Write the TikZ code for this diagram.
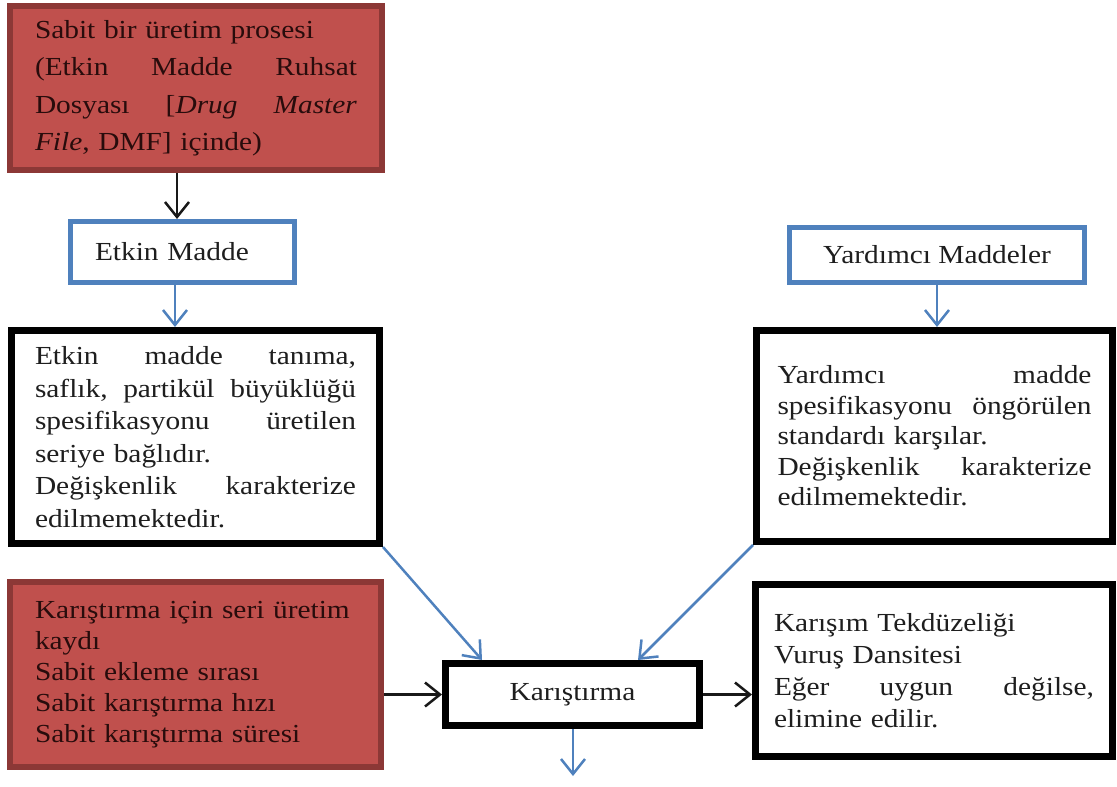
\documentclass[tikz,border=0pt]{standalone}
\usepackage{fontspec}
\setmainfont{Liberation Serif}[FakeStretch=1.13]
\usetikzlibrary{arrows.meta}
\definecolor{redfill}{RGB}{192,80,77}
\definecolor{redline}{RGB}{140,56,54}
\definecolor{blueline}{RGB}{79,129,189}
\definecolor{darktext}{RGB}{40,12,12}
\definecolor{graytext}{RGB}{30,30,30}
\newcommand\jl[1]{\makebox[\hsize]{#1}}
\begin{document}
\begin{tikzpicture}[x=1pt,y=-1pt,
  box/.style={rectangle, inner ysep=0pt, inner xsep=0pt, anchor=center},
  redbox/.style={box, draw=redline, fill=redfill, line width=6pt, text=darktext, align=left},
  bluebox/.style={box, draw=blueline, fill=white, line width=5pt, text=graytext},
  blackbox/.style={box, draw=black, fill=white, line width=7pt, text=graytext},
  conn/.style={line width=2.5pt, -{Straight Barb[length=15pt,width=24pt]}},
  blk/.style={conn, draw=black!90},
  blu/.style={conn, draw=blueline},
  fs/.style={font=\fontsize{26}{#1}\selectfont}]
\useasboundingbox (0,0) rectangle (1117,787);

\node[redbox, fs=37.5, text width=322pt, minimum width=372pt, minimum height=164pt] (b1) at (196,88)
  {Sabit bir üretim prosesi\\
   \jl{(Etkin\hfill Madde\hfill Ruhsat}\\
   \jl{Dosyası\hfill [\textit{Drug}\hfill \textit{Master}}\\
   \textit{File}, DMF] içinde)};

\node[bluebox, fs=32, text width=175pt, align=left, minimum width=224pt, minimum height=61pt] (em) at (182.5,252) {Etkin Madde};

\node[blackbox, fs=32.5, text width=321pt, align=left, minimum width=368pt, minimum height=213pt] (ed) at (195.5,437)
  {\jl{Etkin\hfill madde\hfill tanıma,}\\
   \jl{saflık,\hfill partikül\hfill büyüklüğü}\\
   \jl{spesifikasyonu\hfill üretilen}\\
   seriye bağlıdır.\\
   \jl{Değişkenlik\hfill karakterize}\\
   edilmemektedir.};

\node[bluebox, fs=32, minimum width=295pt, minimum height=55pt] (ym) at (937,255) {Yardımcı Maddeler};

\node[blackbox, fs=30.5, text width=314pt, align=left, minimum width=356pt, minimum height=211pt] (yd) at (934.5,436)
  {\jl{Yardımcı\hfill madde}\\
   \jl{spesifikasyonu\hfill öngörülen}\\
   standardı karşılar.\\
   \jl{Değişkenlik\hfill karakterize}\\
   edilmemektedir.};

\node[redbox, fs=31, text width=321pt, minimum width=371pt, minimum height=185pt] (b2) at (195.5,674.5)
  {Karıştırma için seri üretim\\
   kaydı\\
   Sabit ekleme sırası\\
   Sabit karıştırma hızı\\
   Sabit karıştırma süresi};

\node[blackbox, fs=32, minimum width=254pt, minimum height=62pt] (kar) at (572.5,694.5) {Karıştırma};

\node[blackbox, fs=32, text width=320pt, align=left, minimum width=357pt, minimum height=172pt] (kd) at (934,670.5)
  {Karışım Tekdüzeliği\\
   Vuruş Dansitesi\\
   \jl{Eğer\hfill uygun\hfill değilse,}\\
   elimine edilir.};

\coordinate (ax) at (177,0);
\coordinate (bx) at (175,0);
\coordinate (cx) at (937,0);
\coordinate (dn) at (573,776);

\draw[blk] (b1.south -| ax) -- (em.north -| ax);
\draw[blu] (em.south -| bx) -- (ed.north -| bx);
\draw[blu] (ym.south -| cx) -- (yd.north -| cx);
\draw[blu] (ed.south east) -- ([xshift=40pt]kar.north west);
\draw[blu] (yd.south west) -- ([xshift=-65pt]kar.north east);
\draw[blk] (b2.east |- kar.west) -- (kar.west);
\draw[blk] (kar.east) -- (kd.west |- kar.east);
\draw[blu] (kar.south -| dn) -- (dn);
\end{tikzpicture}
\end{document}
